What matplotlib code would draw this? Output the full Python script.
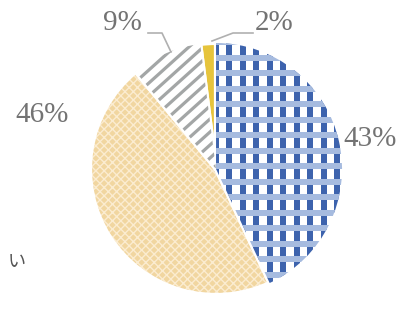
import numpy as np
import matplotlib
matplotlib.use("Agg")
import matplotlib.pyplot as plt
from matplotlib.patches import Wedge
from matplotlib.collections import LineCollection

# slice data, clockwise from 12 o'clock
labels = ["43%", "46%", "9%", "2%"]
values = [43, 46, 9, 2]
faces = ["white", "#f1d6a0", "white", "#e6c43c"]

W, H = 406, 324
fig = plt.figure(figsize=(W / 100, H / 100), dpi=100)
ax = fig.add_axes([0, 0, 1, 1])

center = (216, H - 169)
radius = 126
explode = [0.04, 0.03, 0.025, 0.025]

wedges, _ = ax.pie(values, startangle=90, counterclock=False, center=center,
                   radius=radius, explode=explode, colors=faces, frame=True,
                   wedgeprops=dict(linewidth=0))
ax.set_xlim(0, W)
ax.set_ylim(0, H)
ax.set_aspect("equal")
ax.axis("off")

px = 0.72  # one pixel in points at dpi 100

# tan slice: fine light crosshatch
wedges[1].set_hatch("xxxx")
wedges[1].set_edgecolor("#fbecd0")

# blue gingham: dark columns, light blue bands on top
xs = np.arange(0, W, 13.5)
cols = LineCollection([[(x, 0), (x, H)] for x in xs], colors="#3d63ad",
                      linewidths=6 * px)
cols.set_clip_path(wedges[0])
ax.add_collection(cols)
ys = np.arange(3, H, 15.5)
rows = LineCollection([[(0, y), (W, y)] for y in ys], colors="#a6bbdf",
                      linewidths=6 * px)
rows.set_clip_path(wedges[0])
ax.add_collection(rows)

# gray diagonal stripes
cs = np.arange(-400, H, 13)
stripes = LineCollection([[(0, c), (W, c + 0.9 * W)] for c in cs],
                         colors="#a3a6a6", linewidths=3.2 * px)
stripes.set_clip_path(wedges[2])
ax.add_collection(stripes)

# white outlines give the small gaps between slices
for w in wedges:
    ax.add_patch(Wedge(w.center, w.r, w.theta1, w.theta2, facecolor="none",
                       edgecolor="white", linewidth=3))

txt = dict(color="#737373", fontsize=21, family="Liberation Serif",
           ha="center", va="center")
ax.text(370, H - 139, labels[0], **txt)
ax.text(42, H - 115, labels[1], **txt)
ax.text(122, H - 23, labels[2], **txt)
ax.text(274, H - 23, labels[3], **txt)

# leader lines
ax.plot([148, 162, 171], [H - 33, H - 33, H - 52], color="#b0b0b0", lw=1.2)
ax.plot([253, 233, 212], [H - 33, H - 33, H - 41], color="#b0b0b0", lw=1.2)

ax.text(8, H - 262, "い", color="#555555", fontsize=13,
        family=["Noto Sans CJK JP", "DejaVu Sans"], ha="left", va="center")

fig.savefig("out.png", dpi=100)
